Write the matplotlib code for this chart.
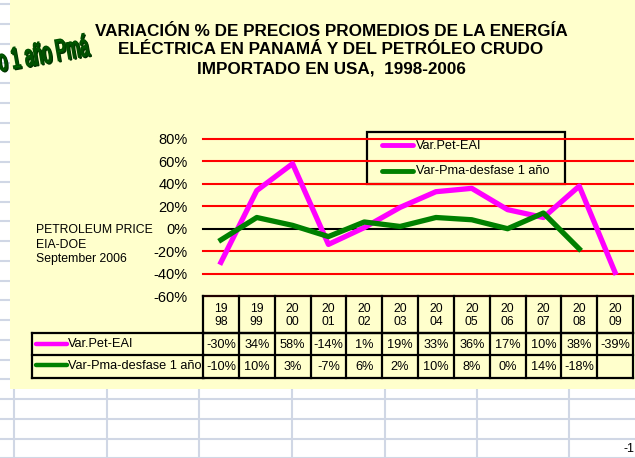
import matplotlib
matplotlib.use('Agg')
import matplotlib.pyplot as plt
import numpy as np
from matplotlib.transforms import blended_transform_factory, Affine2D
from matplotlib.textpath import TextPath
from matplotlib.patches import PathPatch, Rectangle
from matplotlib.font_manager import FontProperties

# ---------------- data ----------------
years = ['1998', '1999', '2000', '2001', '2002', '2003', '2004', '2005',
         '2006', '2007', '2008', '2009']
pet_eai = [-30, 34, 58, -14, 1, 19, 33, 36, 17, 10, 38, -39]
pma_desfase = [-10, 10, 3, -7, 6, 2, 10, 8, 0, 14, -18, None]
series_names = ['Var.Pet-EAI', 'Var-Pma-desfase 1 año']
yticks = [80, 60, 40, 20, 0, -20, -40, -60]
title_lines = ['VARIACIÓN % DE PRECIOS PROMEDIOS DE LA ENERGÍA',
               'ELÉCTRICA EN PANAMÁ Y DEL PETRÓLEO CRUDO',
               'IMPORTADO EN USA,  1998-2006']
source_lines = ['PETROLEUM PRICE', 'EIA-DOE', 'September 2006']
wordart = 'o 1 año Pmá'

plt.rcParams['font.family'] = ['Liberation Sans', 'DejaVu Sans']

MAG = '#FF00FF'
GRN = '#008000'
YEL = '#FFFFCC'
GRID = '#D0D7E5'

W, H = 635, 458
fig = plt.figure(figsize=(W / 100, H / 100), dpi=100)
fig.patch.set_facecolor('white')
bg = fig.add_axes([0, 0, 1, 1])
bg.set_xlim(0, W)
bg.set_ylim(H, 0)
bg.axis('off')

# spreadsheet grid behind chart
for k in range(24):
    y = 4 + 19.75 * k
    bg.plot([0, W], [y, y], color=GRID, lw=1.5, zorder=0)
for x in [14, 107, 199, 292, 385, 477, 569]:
    bg.plot([x, x], [0, H], color=GRID, lw=1.5, zorder=0)
bg.text(634, 449, '-1', ha='right', va='center', fontsize=9, zorder=1)

# yellow chart area
bg.add_patch(Rectangle((10, 0), W, 389, facecolor=YEL, edgecolor='none', zorder=1))

# title
for i, line in enumerate(title_lines):
    bg.text(331, 31 + 19 * i, line, ha='center', va='center', fontsize=12.3,
            fontweight='bold', zorder=3)

# source text
for i, line in enumerate(source_lines):
    bg.text(36, 230 + 14.5 * i, line, ha='left', va='center', fontsize=8.8, zorder=3)

# plot axes
ax = fig.add_axes([203 / W, 1 - 296 / H, 430 / W, 157 / H])
ax.set_xlim(-0.5, 11.5)
ax.set_ylim(-60, 80)
ax.patch.set_alpha(0)
for s in ax.spines.values():
    s.set_visible(False)
ax.set_xticks([])
ax.set_yticks(yticks)
ax.set_yticklabels([f'{v}%' for v in yticks], fontsize=10.5)
ax.tick_params(axis='y', length=0, pad=11)
for v in yticks:
    if v > -60:
        ax.axhline(v, color='black' if v == 0 else '#FF0000', lw=1.5, zorder=1,
                   clip_on=False)

x = np.arange(len(years))
pma_arr = np.array([np.nan if v is None else v for v in pma_desfase], dtype=float)
ax.plot(x, pet_eai, color=MAG, lw=3.8, zorder=3, clip_on=False)
ax.plot(x, pma_arr, color=GRN, lw=3.8, zorder=4, clip_on=False)

# legend box
bg.add_patch(Rectangle((367, 132), 198, 52, fill=False, edgecolor='black', lw=1.6, zorder=5))
bg.plot([382, 413], [145, 145], color=MAG, lw=3.5, solid_capstyle='round', zorder=5)
bg.plot([382, 413], [171, 171], color=GRN, lw=3.5, solid_capstyle='round', zorder=5)
bg.text(416, 146, series_names[0], ha='left', va='center', fontsize=9.2, zorder=5)
bg.text(416, 171, series_names[1], ha='left', va='center', fontsize=9.2, zorder=5)

# data table
tr = blended_transform_factory(ax.transData, bg.transData)
n = len(years)
lw_t = 1.6
bg.plot([-0.5, n - 0.5], [296, 296], color='#200000', lw=lw_t, transform=tr, zorder=6,
        clip_on=False)
bg.plot([-0.5, n - 0.5], [333, 333], color='black', lw=lw_t, transform=tr, zorder=6,
        clip_on=False)
for yy in [333, 355, 378]:
    bg.plot([32, 204], [yy, yy], color='black', lw=lw_t, zorder=6)
    bg.plot([-0.5, n - 0.5], [yy, yy], color='black', lw=lw_t, transform=tr, zorder=6,
            clip_on=False)
bg.plot([32, 32], [333, 378], color='black', lw=lw_t, zorder=6)
for i in range(n + 1):
    bg.plot([i - 0.5, i - 0.5], [296, 378], color='black', lw=lw_t, transform=tr,
            zorder=6, clip_on=False)
for i, yr in enumerate(years):
    bg.text(i, 309, yr[:2], ha='center', va='center', fontsize=8.7, transform=tr, zorder=7)
    bg.text(i, 322, yr[2:], ha='center', va='center', fontsize=8.7, transform=tr, zorder=7)
    bg.text(i, 345, f'{pet_eai[i]}%', ha='center', va='center', fontsize=9.2,
            transform=tr, zorder=7)
    if pma_desfase[i] is not None:
        bg.text(i, 367, f'{pma_desfase[i]}%', ha='center', va='center', fontsize=9.2,
                transform=tr, zorder=7)
# table keys
bg.plot([36, 67], [344, 344], color=MAG, lw=3.2, solid_capstyle='round', zorder=7)
bg.plot([36, 67], [365, 365], color=GRN, lw=3.2, solid_capstyle='round', zorder=7)
bg.text(68, 344, series_names[0], ha='left', va='center', fontsize=9.2, zorder=7)
bg.text(68, 366, series_names[1], ha='left', va='center', fontsize=9.2, zorder=7)

# WordArt-like rotated condensed text
fp = FontProperties(family='Liberation Sans', weight='normal')
tp = TextPath((0, 0), wordart, size=30, prop=fp)
bb = tp.get_extents()
t = (Affine2D().translate(-bb.x1, 0).scale(0.54, -1.0).rotate_deg(-10)
     .translate(90, 55))
path = t.transform_path(tp)
shadow = Affine2D().translate(1.3, 1.3).transform_path(path)
bg.add_patch(PathPatch(shadow, facecolor='#003300', edgecolor='#003300', lw=1.0, zorder=2))
bg.add_patch(PathPatch(path, facecolor=GRN, edgecolor='#005000', lw=1.2, zorder=2))

fig.savefig('out.png', dpi=100, facecolor='white')
